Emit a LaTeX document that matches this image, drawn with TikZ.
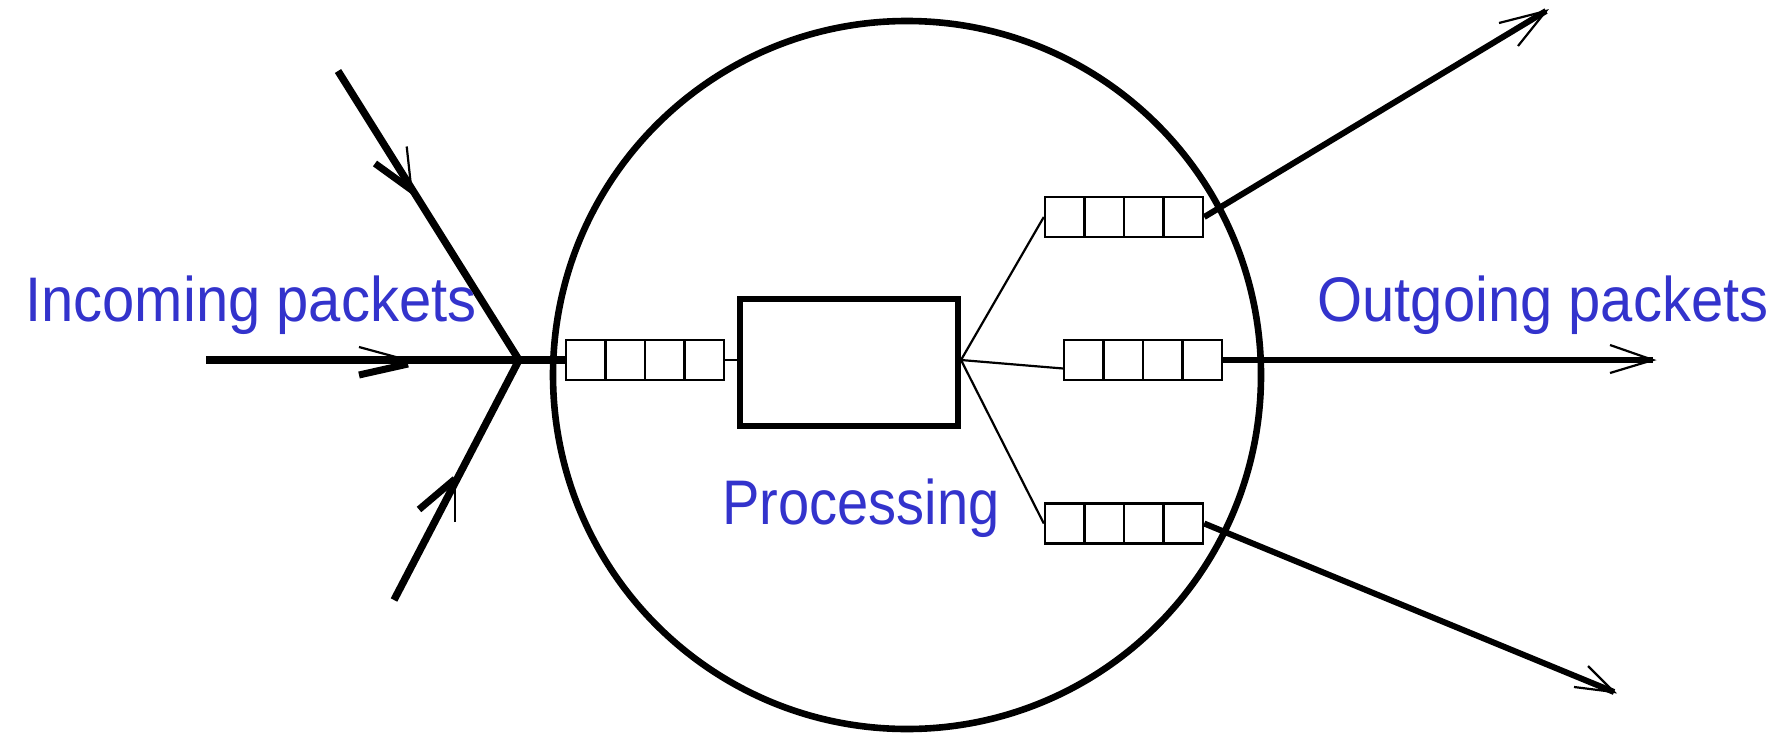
\documentclass[tikz,border=0pt]{standalone}
\usepackage{fontspec}
\setmainfont{Liberation Sans}
\usetikzlibrary{calc}
\definecolor{lblue}{RGB}{51,51,204}
\tikzset{
  thick line/.style={line width=3.7pt, line cap=butt},
  out line/.style={line width=3pt},
  thin line/.style={line width=1.1pt},
  barb/.style={line width=1.1pt},
  fat barb/.style={line width=3.5pt},
  queue/.style={draw, line width=1.2pt, minimum width=79pt, minimum height=20pt, inner sep=0pt,
    path picture={
      \foreach \f in {0.25,0.5,0.75}
        \draw[line width=1.2pt] ($(path picture bounding box.south west)!\f!(path picture bounding box.south east)$) --
                                ($(path picture bounding box.north west)!\f!(path picture bounding box.north east)$);
    }},
  proc/.style={draw, line width=3.3pt, minimum width=109pt, minimum height=63.5pt, inner sep=0pt},
  lbl/.style={text=lblue, inner sep=0pt, font=\fontsize{31.5}{38}\selectfont}
}
\begin{document}
\begin{tikzpicture}[x=0.5pt, y=-0.5pt]
\useasboundingbox (0,0) rectangle (1791,733);
% router circle
\node[circle, draw, line width=3.3pt, minimum size=354pt, inner sep=0pt] (router) at (907,375) {};
% queues and processing box
\node[queue] (qin) at (645,360) {};
\node[proc] (box) at (849,362.5) {};
\node[queue] (qup) at (1124,217) {};
\node[queue] (qmid) at (1143,360) {};
\node[queue] (qlow) at (1124,523.5) {};
% coordinates
\coordinate (J) at (519,360);
\coordinate (H0) at (206,360);
\coordinate (U0) at (338,71);
\coordinate (L0) at (394,600);
\coordinate (F) at (961,360);
\coordinate (Tup) at (1546,11);
\coordinate (Tmid) at (1653,360);
\coordinate (Tlow) at (1614,692);
% incoming lines
\draw[thick line] (H0) -- (J) -- (qin.west);
\draw[thick line, line join=miter] (U0) -- (J);
\draw[thick line] (L0) -- (J);
% incoming arrowheads
\coordinate (hb1) at (359,347); \coordinate (ht1) at (405,359.5);
\coordinate (hb2) at (359,375); \coordinate (ht2) at (408,364);
\draw[barb] (hb1) -- (ht1);
\draw[fat barb] (hb2) -- (ht2);
\coordinate (ub1) at (406.7,146.5); \coordinate (ut1) at (411,186);
\coordinate (ub2) at (375,163.5); \coordinate (ut2) at (413,191);
\draw[barb] (ub1) -- (ut1);
\draw[fat barb] (ub2) -- (ut2);
\coordinate (lb1) at (455,522); \coordinate (lt1) at (455,481);
\coordinate (lb2) at (419,509.5); \coordinate (lt2) at (455,479);
\draw[barb] (lb1) -- (lt1);
\draw[fat barb] (lb2) -- (lt2);
% internal links
\draw[thin line] (qin.east) -- (box.west |- qin.east);
\draw[thin line] (F) -- (qup.west);
\draw[thin line] (F) -- ($(qmid.south west)!0.3!(qmid.north west)$);
\draw[thin line] (F) -- (qlow.west);
% outgoing lines
\draw[out line] (qup.east) -- (Tup);
\draw[out line] (qmid.east) -- (Tmid);
\draw[out line] (qlow.east) -- (Tlow);
% outgoing arrowheads
\coordinate (ob1) at (1499,23); \coordinate (ob2) at (1518,46);
\draw[barb, line join=miter] (ob1) -- (Tup) -- (ob2);
\coordinate (mb1) at (1610,345); \coordinate (mb2) at (1610,373);
\draw[barb, line join=miter] (mb1) -- (Tmid) -- (mb2);
\coordinate (lo1) at (1588,666); \coordinate (lo2) at (1574,687);
\draw[barb, line join=miter] (lo1) -- (Tlow) -- (lo2);
% labels
\node[lbl, anchor=base west] (tin) at (25,321) {\scalebox{0.92}[1]{Incoming packets}};
\node[lbl, anchor=base west] (tout) at (1317,321) {\scalebox{0.92}[1]{Outgoing packets}};
\node[lbl, anchor=base west] (tproc) at (722,524) {\scalebox{0.89}[1]{Processing}};
\end{tikzpicture}
\end{document}
